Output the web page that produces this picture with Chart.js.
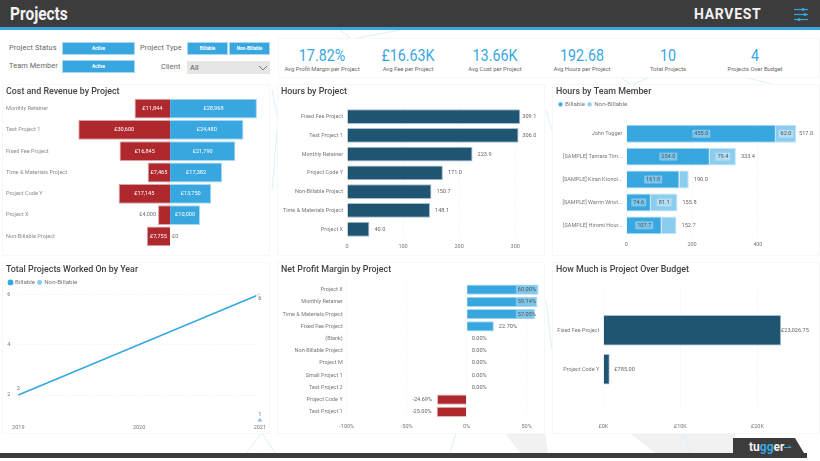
<!DOCTYPE html>
<html>
<head>
<meta charset="utf-8">
<script src="https://cdn.jsdelivr.net/npm/chart.js@4"></script>
<style>
  html, body { margin: 0; padding: 0; background: #fff; }
  body { width: 820px; height: 461px; position: relative; overflow: hidden; font-family: Roboto, sans-serif; }
  .abs { position: absolute; white-space: nowrap; }
  canvas { position: absolute; background: rgba(255,255,255,0.94); box-shadow: 0 0 0 1px #f7f7f7; }
  .btn { position: absolute; background: #38a7e0; color: #fff; font-size: 4.6px; font-weight: 700; display: flex; align-items: center; justify-content: center; box-shadow: inset 0 0 0 1px #a9d8f2; }
  .slicer { position: absolute; color: #666; font-size: 7.4px; letter-spacing: .1px; white-space: nowrap; }
  .kpi { position: absolute; top: 45px; width: 90px; text-align: center; }
  .kpi b { display: block; font-weight: 400; font-size: 17px; line-height: 20px; color: #38a7e0; transform: scaleX(.84); }
  .kpi span { display: block; font-size: 5.9px; line-height: 8px; color: #666; }
</style>
</head>
<body>
<svg class="abs" style="left:0;top:0" width="820" height="461">
  <g fill="#f1f1f1">
    <polygon points="630,433 735,433 735,453 655,453"/>
    <polygon points="505,433 545,433 548,453 520,453"/>
  </g>
  <g stroke="#dcf0fa" stroke-width="1" fill="none">
    <polyline points="272,90 278,120 272,190"/>
    <polyline points="546,110 552,130"/>
    <polyline points="246,453 262,433 275,453"/>
    <polyline points="450,453 456,433"/>
    <polyline points="684,433 690,453"/>
    <polyline points="340,30 352,39 400,30"/>
    <polyline points="620,77 632,85 650,77"/>
    <polyline points="745,77 775,85"/>
    <polyline points="546,300 552,350"/>
  </g>
</svg>
<div class="abs" style="left:0;top:0;width:820px;height:27px;background:#3c3c3c"></div>
<div class="abs" style="left:0;top:27px;width:820px;height:3px;background:#38a7e0"></div>
<div class="abs" style="left:10px;top:4px;font-size:18px;line-height:20px;font-weight:700;color:#f2f2f2;transform:scaleX(.86);transform-origin:left">Projects</div>
<div class="abs" style="left:694px;top:5px;font-size:14px;line-height:18px;font-weight:700;letter-spacing:.7px;color:#f2f2f2">HARVEST</div>
<svg class="abs" style="left:791px;top:7px" width="20" height="16">
  <g stroke="#38a7e0" stroke-width="1.2">
    <line x1="3" y1="2.5" x2="17" y2="2.5"/><line x1="3" y1="7.5" x2="17" y2="7.5"/><line x1="3" y1="12.5" x2="17" y2="12.5"/>
  </g>
  <g fill="#38a7e0"><circle cx="12" cy="2.5" r="1.6"/><circle cx="14" cy="7.5" r="1.6"/><circle cx="8" cy="12.5" r="1.6"/></g>
</svg>

<div class="slicer" style="left:9px;top:43px">Project Status</div>
<div class="slicer" style="left:9px;top:61px">Team Member</div>
<div class="slicer" style="left:140px;top:43px">Project Type</div>
<div class="slicer" style="left:161px;top:62px">Client</div>
<div class="btn" style="left:62px;top:42px;width:73px;height:13px">Active</div>
<div class="btn" style="left:62px;top:60px;width:73px;height:13px">Active</div>
<div class="btn" style="left:187px;top:42px;width:41px;height:13px">Billable</div>
<div class="btn" style="left:229px;top:42px;width:41px;height:13px">Non-Billable</div>
<div class="abs" style="left:187px;top:61px;width:83px;height:13px;background:#e6e6e6"></div>
<div class="slicer" style="left:190px;top:63px;color:#555">All</div>
<svg class="abs" style="left:258px;top:65px" width="10" height="6"><polyline points="1,1 5,5 9,1" fill="none" stroke="#777" stroke-width="1"/></svg>

<div class="abs" style="left:279px;top:39px;width:540px;height:38px;background:rgba(255,255,255,.94);box-shadow:0 0 0 1px #f7f7f7"></div>
<div id="kpis"></div>

<canvas id="costRevenue"></canvas>
<canvas id="hoursProject"></canvas>
<canvas id="hoursTeam"></canvas>
<canvas id="projectsYear"></canvas>
<canvas id="profitMargin"></canvas>
<canvas id="overBudget"></canvas>

<div class="abs" style="left:0;top:453px;width:807px;height:5px;background:#3c3c3c"></div>
<svg class="abs" style="left:733px;top:437px" width="76" height="22"><polygon points="0,1 62,1 74,21 0,21" fill="#3c3c3c"/></svg>
<div class="abs" style="left:749px;top:440px;font-size:12px;line-height:14px;font-weight:700;color:#f2f2f2">tu<span style="color:#38a7e0">gg</span>er</div>
<svg class="abs" style="left:784px;top:444px" width="9" height="7"><polyline points="0,3.5 7,3.5 4.5,1 M7,3.5 4.5,6" fill="none" stroke="#38a7e0" stroke-width="1"/></svg>

<script>
const kpiValues = ["17.82%", "£16.63K", "13.66K", "192.68", "10", "4"];
const kpiNames = ["Avg Profit Margin per Project", "Avg Fee per Project", "Avg Cost per Project", "Avg Hours per Project", "Total Projects", "Projects Over Budget"];
const kpiCentres = [322, 408, 495, 582, 668, 755];

const costProjects = ["Monthly Retainer", "Test Project 1", "Fixed Fee Project", "Time & Materials Project", "Project Code Y", "Project X", "Non-Billable Project"];
const projectCost = [11844, 30600, 16845, 7465, 17145, 4000, 7755];
const projectRevenue = [28968, 24480, 21790, 17382, 13750, 10000, 0];

const hoursProjects = ["Fixed Fee Project", "Test Project 1", "Monthly Retainer", "Project Code Y", "Non-Billable Project", "Time & Materials Project", "Project X"];
const projectHours = [309.1, 306.0, 223.9, 171.0, 150.7, 148.1, 40.0];
const hoursTicks = [0, 100, 200, 300];

const teamMembers = ["John Tugger", "[SAMPLE] Tamara Tim...", "[SAMPLE] Kiran Kronol...", "[SAMPLE] Warrin Wrist...", "[SAMPLE] Hiromi Hour..."];
const teamBillable = [455.0, 254.0, 161.8, 74.6, 107.7];
const teamNonBillable = [62.0, 79.4, 28.2, 81.1, 45.0];
const teamTotals = [517.0, 333.4, 190.0, 155.8, 152.7];
const teamTicks = [0, 200, 400];

const years = ["2019", "2020", "2021"];
const yearBillable = [2, null, 6];
const yearNonBillable = [null, null, 1];
const yearTicks = [2, 4, 6];

const marginProjects = ["Project X", "Monthly Retainer", "Time & Materials Project", "Fixed Fee Project", "(Blank)", "Non-Billable Project", "Project M", "Small Project 1", "Test Project 2", "Project Code Y", "Test Project 1"];
const marginValues = [60.00, 59.14, 57.05, 22.70, 0, 0, 0, 0, 0, -24.69, -25.00];
const marginTicks = [-100, -50, 0, 50];

const budgetProjects = ["Fixed Fee Project", "Project Code Y"];
const budgetOver = [23026.75, 785.00];
const budgetTicks = [0, 10000, 20000];

const FONT = "Roboto";
const BLUE = "#38a7e0", LIGHT = "#8bcdee", RED = "#ae282e", NAVY = "#1f5572";

kpiValues.forEach((v, i) => {
  const d = document.createElement("div");
  d.className = "kpi";
  d.style.left = (kpiCentres[i] - 45) + "px";
  d.innerHTML = "<b>" + v + "</b><span>" + kpiNames[i] + "</span>";
  document.getElementById("kpis").appendChild(d);
});

Chart.defaults.font.family = FONT;
Chart.defaults.font.size = 5.5;
Chart.defaults.color = "#777";
Chart.defaults.animation = false;

// draws the value labels; fn returns a list of labels for one point
function valueLabels(fn) {
  return {
    id: "valueLabels",
    afterDatasetsDraw(chart) {
      const ctx = chart.ctx;
      chart.data.datasets.forEach((ds, di) => {
        chart.getDatasetMeta(di).data.forEach((el, i) => {
          if (ds.data[i] === null) return;
          (fn(di, i, el, chart) || []).forEach(l => {
            ctx.save();
            ctx.font = "5.6px " + FONT;
            ctx.textBaseline = "middle";
            ctx.textAlign = "left";
            const w = ctx.measureText(l.text).width;
            const x = l.x - (l.align === "center" ? w / 2 : l.align === "right" ? w : 0);
            if (l.pill) {
              ctx.fillStyle = l.pill;
              ctx.fillRect(x - 2, l.y - 4, w + 4, 8);
            }
            ctx.fillStyle = l.color || "#666";
            ctx.fillText(l.text, x, l.y);
            ctx.restore();
          });
        });
      });
    }
  };
}

// fixes the plot rectangle of a panel, in page pixels
function makeChart(id, box, plot, title, config) {
  const canvas = document.getElementById(id);
  canvas.width = box.w;
  canvas.height = box.h;
  canvas.style.left = box.x + "px";
  canvas.style.top = box.y + "px";
  const titleBottom = box.y + 1 + 10.7;
  const hasLegend = config.legend;
  const o = config.options;
  o.responsive = false;
  o.layout = { padding: { top: 1, left: 3, right: box.x + box.w - plot.r, bottom: 0 } };
  o.plugins = o.plugins || {};
  o.plugins.title = {
    display: true, text: title, align: "start", color: "#444",
    font: { size: 8.9, weight: 500, family: FONT, lineHeight: 1.2 },
    padding: { top: 0, bottom: hasLegend ? 1.6 : plot.t - titleBottom }
  };
  o.plugins.legend = hasLegend ? {
    display: true, align: "start",
    labels: { usePointStyle: true, pointStyle: "circle", boxWidth: 3, boxHeight: 3, padding: 3, color: "#777", font: { size: 6.2 } }
  } : { display: false };
  o.scales.x.afterFit = s => { s.height = box.y + box.h - plot.b; };
  o.scales.y.afterFit = s => { s.width = plot.l - box.x - 3; };
  const plugins = [valueLabels(config.labels)];
  if (hasLegend) {
    plugins.push({
      id: "legendHeight",
      beforeLayout(chart) {
        const lg = chart.legend;
        if (lg.fixed) return;
        lg.fixed = true;
        const fit = lg.fit;
        lg.fit = function () { fit.call(lg); lg.height = plot.t - titleBottom - 1.6; };
      }
    });
  }
  return new Chart(canvas, { type: config.type, data: config.data, options: o, plugins });
}

const valueAxis = (min, max, ticks, format, display) => ({
  type: "linear", min, max, display: display !== false,
  afterBuildTicks: s => { s.ticks = ticks.map(v => ({ value: v })); },
  grid: { color: "#ececec", drawTicks: false },
  border: { display: false, dash: [1, 2] },
  ticks: { padding: 5, maxRotation: 0, callback: format }
});
const categoryAxis = (padding, extra) => Object.assign({
  grid: { display: false, drawTicks: false },
  border: { display: false },
  ticks: { padding, autoSkip: false, color: "#777" }
}, extra);
const pounds = v => "£" + Math.abs(v).toLocaleString("en-GB");

// cost and revenue, cost grows to the left of zero
makeChart("costRevenue", { x: 3, y: 85, w: 266, h: 170 }, { l: 70, r: 269, t: 98, b: 247 }, "Cost and Revenue by Project", {
  type: "bar",
  data: {
    labels: costProjects,
    datasets: [
      { label: "Cost", data: projectCost.map(v => -v), backgroundColor: RED, borderColor: "#d9a3a5", borderWidth: 1, barPercentage: .93, categoryPercentage: 1 },
      { label: "Revenue", data: projectRevenue, backgroundColor: BLUE, borderColor: "#a9d8f2", borderWidth: 1, barPercentage: .93, categoryPercentage: 1 }
    ]
  },
  options: {
    indexAxis: "y",
    scales: {
      x: { type: "linear", stacked: true, min: -33370, max: 33000, display: false },
      y: categoryAxis(0, { stacked: true, ticks: { crossAlign: "far", padding: 0, autoSkip: false, color: "#8a8a8a", font: { size: 5.6 } } })
    }
  },
  labels(di, i, el, chart) {
    const v = di === 0 ? projectCost[i] : projectRevenue[i];
    const y = chart.getDatasetMeta(0).data[i].y;
    if (v === 0) return [{ text: "£0", x: chart.scales.x.getPixelForValue(0) + 2, y, color: "#777" }];
    if (Math.abs(el.x - el.base) < 20) return [{ text: pounds(v), x: el.x - 2, y, align: "right", color: "#777" }];
    return [{ text: pounds(v), x: (el.x + el.base) / 2, y, align: "center", color: "#fff" }];
  }
});

makeChart("hoursProject", { x: 278, y: 85, w: 266, h: 170 }, { l: 347, r: 541, t: 107.3, b: 238.6 }, "Hours by Project", {
  type: "bar",
  data: {
    labels: hoursProjects,
    datasets: [{ label: "Hours", data: projectHours, backgroundColor: NAVY, borderColor: "#a5bfcd", borderWidth: 1, barPercentage: .79, categoryPercentage: 1 }]
  },
  options: {
    indexAxis: "y",
    scales: {
      x: valueAxis(0, 346, hoursTicks, v => v),
      y: categoryAxis(4)
    }
  },
  labels: (di, i, el) => [{ text: projectHours[i].toFixed(1), x: Math.min(el.x + 5, 522.3 - 278), y: el.y }]
});

makeChart("hoursTeam", { x: 553, y: 85, w: 266, h: 170 }, { l: 626.3, r: 813, t: 122.3, b: 236.8 }, "Hours by Team Member", {
  type: "bar",
  legend: true,
  data: {
    labels: teamMembers,
    datasets: [
      { label: "Billable", data: teamBillable, backgroundColor: BLUE, borderColor: "#a9d8f2", borderWidth: 1, barPercentage: .78, categoryPercentage: 1 },
      { label: "Non-Billable", data: teamNonBillable, backgroundColor: LIGHT, borderColor: "#c5e6f7", borderWidth: 1, barPercentage: .78, categoryPercentage: 1 }
    ]
  },
  options: {
    indexAxis: "y",
    scales: {
      x: Object.assign(valueAxis(0, 568, teamTicks, v => v), { stacked: true }),
      y: categoryAxis(4, { stacked: true })
    }
  },
  labels(di, i, el) {
    const out = [];
    if (Math.abs(el.x - el.base) >= 18) {
      const v = di === 0 ? teamBillable[i] : teamNonBillable[i];
      out.push({ text: v.toFixed(1), x: (el.x + el.base) / 2, y: el.y, align: "center", color: "#555", pill: "rgba(255,255,255,.35)" });
    }
    if (di === 1) out.push({ text: teamTotals[i].toFixed(1), x: Math.min(el.x + 5, 799 - 553), y: el.y });
    return out;
  }
});

makeChart("projectsYear", { x: 3, y: 263, w: 266, h: 170 }, { l: 18.3, r: 261.7, t: 290, b: 422 }, "Total Projects Worked On by Year", {
  type: "line",
  legend: true,
  data: {
    labels: years,
    datasets: [
      { label: "Billable", data: yearBillable, spanGaps: true, borderColor: BLUE, backgroundColor: BLUE, borderWidth: 1.6, pointRadius: 0, tension: 0 },
      { label: "Non-Billable", data: yearNonBillable, borderColor: LIGHT, backgroundColor: LIGHT, pointStyle: "triangle", pointRadius: 2.2, borderWidth: 1 }
    ]
  },
  options: {
    scales: {
      x: categoryAxis(3, { offset: false, ticks: { padding: 3, autoSkip: false, maxRotation: 0, color: "#777" } }),
      y: Object.assign(valueAxis(0.94, 6.17, yearTicks, v => v), {
        ticks: { padding: 8, callback: v => v }
      })
    }
  },
  labels(di, i, el) {
    if (di === 0) return [{ text: String(yearBillable[i]), x: el.x, y: i === 0 ? el.y - 6.5 : el.y + 4, align: "center", pill: "rgba(255,255,255,.9)" }];
    return [{ text: String(yearNonBillable[i]), x: el.x, y: el.y - 6, align: "center", pill: "rgba(255,255,255,.9)" }];
  }
});

makeChart("profitMargin", { x: 278, y: 263, w: 266, h: 170 }, { l: 346.7, r: 541, t: 283.6, b: 418 }, "Net Profit Margin by Project", {
  type: "bar",
  data: {
    labels: marginProjects,
    datasets: [{
      label: "Net Profit Margin", data: marginValues,
      backgroundColor: marginValues.map(v => v < 0 ? RED : BLUE),
      borderColor: marginValues.map(v => v < 0 ? "#e5b6b8" : "#a9d8f2"),
      borderWidth: 1, barPercentage: .84, categoryPercentage: 1
    }]
  },
  options: {
    indexAxis: "y",
    scales: {
      x: valueAxis(-100, 62, marginTicks, v => v + "%"),
      y: categoryAxis(4)
    }
  },
  labels(di, i, el) {
    const v = marginValues[i];
    const text = v.toFixed(2) + "%";
    if (v > 50) return [{ text, x: 536 - 278, y: el.y, align: "right", color: "#555", pill: "rgba(255,255,255,.35)" }];
    if (v < 0) return [{ text, x: el.x - 5, y: el.y, align: "right" }];
    return [{ text, x: el.x + 5, y: el.y }];
  }
});

makeChart("overBudget", { x: 553, y: 263, w: 266, h: 170 }, { l: 603.3, r: 816, t: 291.3, b: 408.3 }, "How Much is Project Over Budget", {
  type: "bar",
  data: {
    labels: ["", ...budgetProjects, ""],
    datasets: [{ label: "Over Budget", data: [null, ...budgetOver, null], backgroundColor: NAVY, borderColor: "#a5bfcd", borderWidth: 1, barThickness: 30 }]
  },
  options: {
    indexAxis: "y",
    scales: {
      x: (a => { a.ticks.padding = 15; return a; })(valueAxis(0, 27600, budgetTicks, v => "£" + v / 1000 + "K")),
      y: categoryAxis(4, { offset: false })
    }
  },
  labels(di, i, el) {
    const v = budgetOver[i - 1];
    return [{ text: "£" + v.toLocaleString("en-GB", { minimumFractionDigits: 2 }), x: Math.min(el.x + 5, 781 - 553), y: el.y }];
  }
});
</script>
</body>
</html>
